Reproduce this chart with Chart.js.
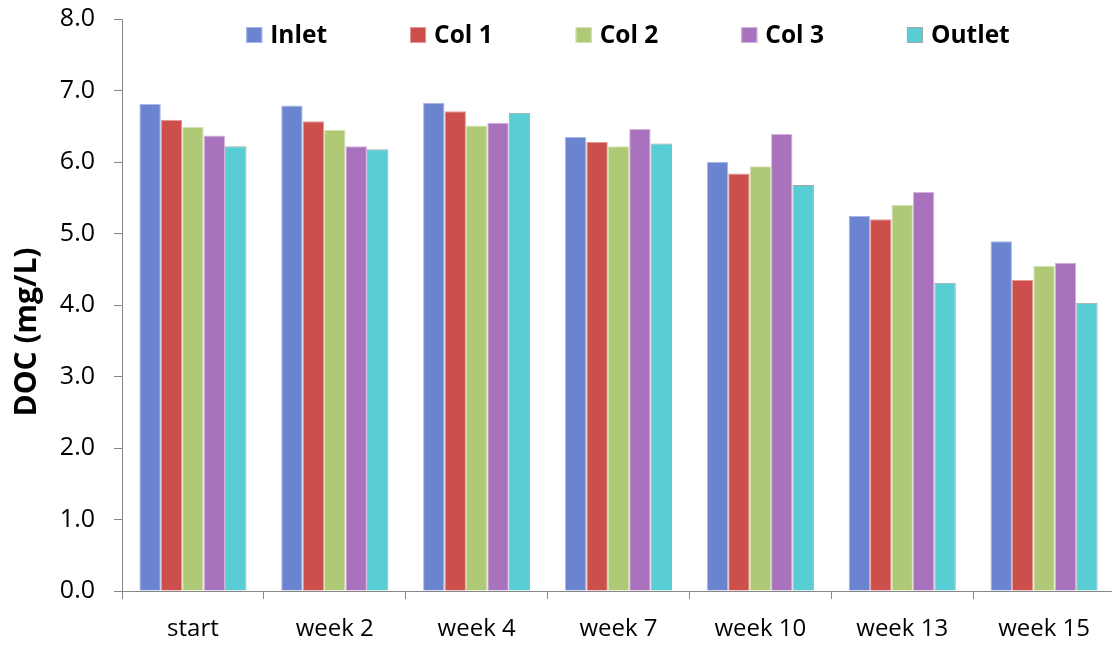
<!DOCTYPE html>
<html>
<head>
<meta charset="utf-8">
<title>DOC (mg/L)</title>
<script src="https://cdn.jsdelivr.net/npm/chart.js@4.4.1/dist/chart.umd.min.js"></script>
<style>
  html, body { margin: 0; padding: 0; background: #ffffff; overflow: hidden; }
  #wrap { position: relative; width: 1116px; height: 646px; }
</style>
</head>
<body>
<div id="wrap"><canvas id="chart"></canvas></div>
<script>
// Sampling times
const categories = ['start', 'week 2', 'week 4', 'week 7', 'week 10', 'week 13', 'week 15'];

// Dissolved organic carbon, mg/L
const inlet  = [6.81, 6.79, 6.83, 6.35, 6.00, 5.25, 4.89];
const col1   = [6.59, 6.57, 6.71, 6.28, 5.84, 5.20, 4.35];
const col2   = [6.49, 6.45, 6.51, 6.22, 5.94, 5.40, 4.55];
const col3   = [6.37, 6.22, 6.55, 6.46, 6.39, 5.58, 4.59];
const outlet = [6.22, 6.18, 6.69, 6.26, 5.68, 4.31, 4.03];

// Y axis tick values
const yTicks = [0, 1, 2, 3, 4, 5, 6, 7, 8];

const yTitle = 'DOC (mg/L)';

const FONT = '"Open Sans", "DejaVu Sans", sans-serif';
const AXIS_GREY = '#878787';

function series(label, data, fill, edge) {
  return {
    label: label,
    data: data,
    backgroundColor: fill,
    borderColor: edge,
    borderWidth: 1,
    categoryPercentage: 0.755,
    barPercentage: 1.0
  };
}

// One-row legend drawn inside the plot, near its top edge
const insideLegend = {
  id: 'insideLegend',
  afterDraw(chart, args, opts) {
    const ctx = chart.ctx;
    const sets = chart.data.datasets;
    ctx.save();
    ctx.font = 'bold ' + opts.fontSize + 'px ' + FONT;
    ctx.textBaseline = 'middle';
    ctx.textAlign = 'left';
    const widths = sets.map(ds => opts.box + opts.gap + ctx.measureText(ds.label).width);
    const total = widths.reduce((a, b) => a + b, 0) + opts.spacing * (sets.length - 1);
    let x = opts.centreX - total / 2;
    const y = opts.centreY;
    sets.forEach((ds, i) => {
      ctx.fillStyle = ds.backgroundColor;
      ctx.fillRect(x, y - opts.box / 2, opts.box, opts.box);
      ctx.lineWidth = 1;
      ctx.strokeStyle = ds.borderColor;
      ctx.strokeRect(x + 0.5, y - opts.box / 2 + 0.5, opts.box - 1, opts.box - 1);
      ctx.fillStyle = '#000000';
      ctx.fillText(ds.label, x + opts.box + opts.gap, y + 1);
      x += widths[i] + opts.spacing;
    });
    ctx.restore();
  }
};

// Rotated title beside the value axis
const valueAxisTitle = {
  id: 'valueAxisTitle',
  afterDraw(chart, args, opts) {
    const ctx = chart.ctx;
    ctx.save();
    ctx.translate(opts.x, opts.y);
    ctx.rotate(-Math.PI / 2);
    ctx.font = 'bold ' + opts.fontSize + 'px ' + FONT;
    ctx.textAlign = 'center';
    ctx.textBaseline = 'middle';
    ctx.fillStyle = '#000000';
    ctx.fillText(opts.text, 0, 0);
    ctx.restore();
  }
};

new Chart(document.getElementById('chart'), {
  type: 'bar',
  data: {
    labels: categories,
    datasets: [
      series('Inlet',  inlet,  '#6a84cf', '#a9b8e8'),
      series('Col 1',  col1,   '#cd4f4b', '#e39a97'),
      series('Col 2',  col2,   '#b0c977', '#d3e2b0'),
      series('Col 3',  col3,   '#a972bc', '#d2b3de'),
      series('Outlet', outlet, '#58cdd4', '#a6a6a6')
    ]
  },
  options: {
    responsive: true,
    maintainAspectRatio: false,
    animation: false,
    layout: { padding: { top: 19, left: 0, right: 1, bottom: 0 } },
    plugins: {
      tooltip: { enabled: false },
      legend: { display: false },
      insideLegend: { centreX: 628, centreY: 35, box: 16, gap: 8, spacing: 83, fontSize: 24.5 },
      valueAxisTitle: { text: yTitle, x: 27, y: 332, fontSize: 30 }
    },
    scales: {
      x: {
        offset: true,
        afterFit(scale) { scale.height = 55; },
        grid: {
          display: true,
          drawOnChartArea: false,
          drawTicks: true,
          tickLength: 8,
          color: AXIS_GREY,
          lineWidth: 1
        },
        border: { display: true, color: AXIS_GREY, width: 1 },
        ticks: {
          color: '#000000',
          padding: 16,
          maxRotation: 0,
          font: { family: FONT, size: 24 }
        }
      },
      y: {
        min: 0,
        max: 8,
        afterFit(scale) {
          scale.width = 122;
          // the top label has room above the plot already
          scale.paddingTop = 0;
          scale.paddingBottom = 0;
        },
        afterBuildTicks(scale) { scale.ticks = yTicks.map(v => ({ value: v })); },
        grid: {
          display: true,
          drawOnChartArea: false,
          drawTicks: true,
          tickLength: 8,
          color: AXIS_GREY,
          lineWidth: 1
        },
        border: { display: true, color: AXIS_GREY, width: 1 },
        ticks: {
          color: '#000000',
          padding: 19,
          font: { family: FONT, size: 25 },
          callback: (v) => Number(v).toFixed(1)
        }
      }
    }
  },
  plugins: [insideLegend, valueAxisTitle]
});
</script>
</body>
</html>
